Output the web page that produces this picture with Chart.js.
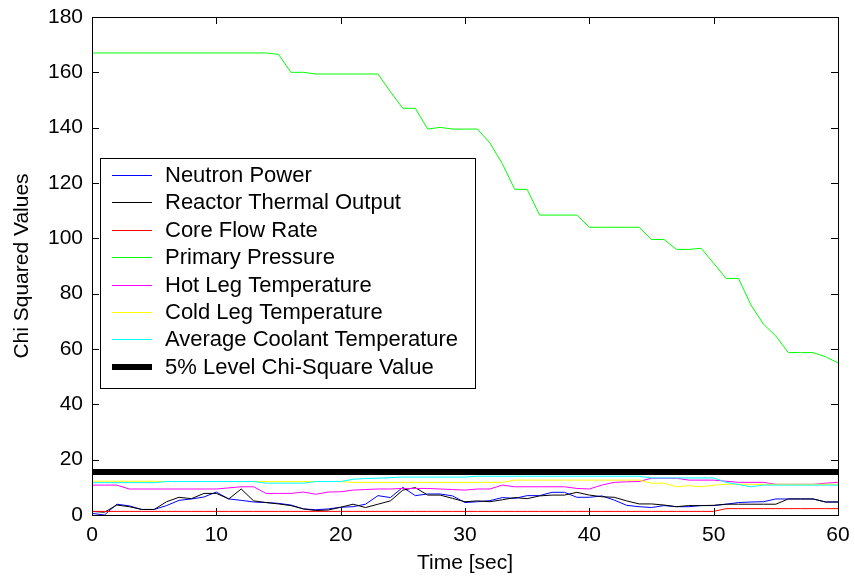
<!DOCTYPE html>
<html>
<head>
<meta charset="utf-8">
<title>Chi Squared Values</title>
<script src="https://cdn.jsdelivr.net/npm/chart.js@4.4.1/dist/chart.umd.min.js"></script>
<style>
  html, body { margin: 0; padding: 0; background: #fff; }
  .chart-container { position: relative; width: 855px; height: 582px; }
</style>
</head>
<body>
<div class="chart-container"><canvas id="myChart"></canvas></div>
<script>
// Time axis (seconds)
const time = [
  0, 1, 2, 3, 4, 5, 6, 7, 8, 9, 10, 11, 12, 13, 14, 15, 16, 17, 18, 19, 20,
  21, 22, 23, 24, 25, 26, 27, 28, 29, 30, 31, 32, 33, 34, 35, 36, 37, 38, 39, 40,
  41, 42, 43, 44, 45, 46, 47, 48, 49, 50, 51, 52, 53, 54, 55, 56, 57, 58, 59, 60
];

const neutronPower = [
  0.6, 0, 3.9, 3.3, 2.0, 2.0, 3.4, 5.3, 5.8, 6.5, 8.3, 5.8, 5.3, 4.7, 4.5, 4.2, 3.6, 2.2, 1.9, 2.2, 2.8,
  3.0, 3.9, 7.0, 6.3, 10.0, 7.0, 7.6, 7.6, 6.9, 4.5, 4.8, 5.2, 6.3, 6.0, 7.0, 7.0, 8.2, 8.2, 6.4, 6.4,
  6.9, 5.4, 3.5, 3.0, 2.7, 3.4, 3.0, 3.0, 3.4, 3.4, 3.9, 4.5, 4.7, 4.8, 5.8, 5.8, 5.8, 5.8, 4.7, 4.7
];

const reactorThermalOutput = [
  1.3, 1.0, 3.6, 3.0, 2.0, 2.0, 4.8, 6.4, 5.9, 7.8, 7.8, 5.8, 9.4, 5.1, 4.5, 4.0, 3.4, 2.2, 1.6, 1.8, 2.8,
  3.9, 2.7, 3.9, 5.1, 9.0, 9.9, 7.2, 7.2, 6.0, 4.8, 5.1, 4.8, 5.5, 6.3, 5.9, 6.9, 7.2, 7.2, 8.2, 7.2,
  6.6, 6.4, 5.1, 4.0, 4.0, 3.6, 3.0, 3.4, 3.4, 3.5, 3.9, 3.9, 3.9, 3.9, 3.9, 5.8, 5.8, 5.8, 4.7, 4.7
];

const coreFlowRate = [
  1.3, 1.3, 1.3, 1.3, 1.3, 1.3, 1.3, 1.3, 1.3, 1.3, 1.3, 1.3, 1.3, 1.3, 1.3, 1.3, 1.3, 1.3, 1.3, 1.3, 1.3,
  1.3, 1.3, 1.3, 1.3, 1.3, 1.3, 1.3, 1.3, 1.3, 1.3, 1.3, 1.3, 1.3, 1.3, 1.3, 1.3, 1.3, 1.3, 1.3, 1.3,
  1.3, 1.3, 1.3, 1.3, 1.3, 1.3, 1.3, 1.3, 1.3, 1.3, 2.3, 2.3, 2.3, 2.3, 2.3, 2.3, 2.3, 2.3, 2.3, 2.3
];

const primaryPressure = [
  167, 167, 167, 167, 167, 167, 167, 167, 167, 167, 167, 167, 167, 167, 167, 166.5, 160, 160, 159.4, 159.4, 159.4,
  159.4, 159.4, 159.4, 153, 147, 147, 139.5, 140.1, 139.5, 139.5, 139.5, 134.5, 127, 117.7, 117.7, 108.4, 108.4, 108.4, 108.4, 104,
  104, 104, 104, 104, 99.6, 99.6, 96, 96, 96.4, 91, 85.5, 85.5, 75.9, 69, 64.7, 58.7, 58.7, 58.7, 57.2, 55
];

const hotLegTemp = [
  10.8, 10.8, 10.8, 9.4, 9.4, 9.4, 9.4, 9.4, 9.4, 9.4, 9.4, 9.8, 10.2, 10.2, 7.8, 7.8, 7.8, 8.3, 7.5, 8.3, 8.4,
  9.0, 9.2, 9.4, 9.4, 9.6, 9.6, 9.6, 9.4, 9.2, 9.0, 9.4, 9.4, 10.8, 10.2, 10.2, 10.2, 10.2, 10.2, 9.6, 9.4,
  10.8, 11.8, 12.0, 12.1, 13.3, 13.3, 13.3, 12.6, 12.6, 12.6, 12.2, 11.8, 11.8, 11.8, 11.1, 11.1, 11.1, 11.1, 11.5, 11.8
];

const coldLegTemp = [
  12.2, 12.2, 12.2, 12.2, 12.2, 12.2, 12.1, 12.1, 12.1, 12.1, 12.1, 12.1, 12.1, 12.1, 12.1, 12.1, 12.1, 12.1, 12.1, 12.1, 12.1,
  11.8, 11.8, 11.8, 11.8, 11.8, 11.8, 11.8, 11.8, 11.8, 11.8, 11.8, 11.8, 11.8, 12.6, 12.6, 12.6, 12.6, 12.6, 12.6, 12.6,
  12.6, 12.6, 12.6, 12.6, 11.5, 11.5, 10.2, 10.6, 10.2, 10.8, 11.1, 11.1, 11.1, 11.1, 11.1, 11.1, 11.1, 11.1, 11.1, 11.1
];

const avgCoolantTemp = [
  11.7, 11.7, 11.7, 11.7, 11.7, 11.7, 12.1, 12.1, 12.1, 12.1, 12.1, 12.1, 12.1, 12.1, 11.5, 11.5, 11.5, 11.5, 12.1, 12.1, 12.1,
  12.9, 13.2, 13.3, 13.5, 13.7, 13.7, 13.7, 13.7, 13.7, 13.7, 14.0, 14.0, 14.0, 14.0, 14.0, 14.0, 14.0, 14.0, 14.0, 14.0,
  14.0, 14.0, 14.0, 14.0, 13.4, 13.4, 13.4, 13.4, 13.4, 13.4, 11.8, 11.0, 10.2, 10.8, 10.8, 10.8, 10.8, 10.8, 10.8, 10.8
];

// 5% significance level of chi-square
const chiLevel = 15.5;
const chiLevelTime = [0, 60];

const xTicks = [0, 10, 20, 30, 40, 50, 60];
const yTicks = [0, 20, 40, 60, 80, 100, 120, 140, 160, 180];

const FONT = 'Liberation Sans, Arial, Helvetica, sans-serif';

const toPoints = (ys) => ys.map((y, i) => ({ x: time[i], y }));

const series = [
  { label: 'Neutron Power', data: toPoints(neutronPower), color: '#0000ff', width: 1 },
  { label: 'Reactor Thermal Output', data: toPoints(reactorThermalOutput), color: '#000000', width: 1 },
  { label: 'Core Flow Rate', data: toPoints(coreFlowRate), color: '#ff0000', width: 1 },
  { label: 'Primary Pressure', data: toPoints(primaryPressure), color: '#00ff00', width: 1 },
  { label: 'Hot Leg Temperature', data: toPoints(hotLegTemp), color: '#ff00ff', width: 1 },
  { label: 'Cold Leg Temperature', data: toPoints(coldLegTemp), color: '#ffff00', width: 1 },
  { label: 'Average Coolant Temperature', data: toPoints(avgCoolantTemp), color: '#00ffff', width: 1 },
  { label: '5% Level Chi-Square Value', data: chiLevelTime.map(t => ({ x: t, y: chiLevel })), color: '#000000', width: 6 }
];

// no extra label overflow padding, so the plot box sits where layout.padding says
const noScalePadding = (scale) => {
  scale.paddingTop = 0;
  scale.paddingBottom = 0;
  scale.paddingLeft = 0;
  scale.paddingRight = 0;
};

// box around the plot with inward ticks on all four sides
const boxTicks = {
  id: 'boxTicks',
  afterDatasetsDraw(chart) {
    const { ctx, chartArea: a, scales } = chart;
    const len = 7;
    ctx.save();
    ctx.strokeStyle = '#000';
    ctx.lineWidth = 1;
    ctx.beginPath();
    xTicks.forEach(v => {
      const px = Math.round(scales.x.getPixelForValue(v)) + 0.5;
      ctx.moveTo(px, a.bottom); ctx.lineTo(px, a.bottom - len);
      ctx.moveTo(px, a.top); ctx.lineTo(px, a.top + len);
    });
    yTicks.forEach(v => {
      const py = Math.round(scales.y.getPixelForValue(v)) + 0.5;
      ctx.moveTo(a.left, py); ctx.lineTo(a.left + len, py);
      ctx.moveTo(a.right, py); ctx.lineTo(a.right - len, py);
    });
    ctx.stroke();
    ctx.strokeRect(Math.round(a.left) + 0.5, Math.round(a.top) + 0.5,
      Math.round(a.right - a.left), Math.round(a.bottom - a.top));
    ctx.restore();
  }
};

// legend box inside the plot, upper left
const boxLegend = {
  id: 'boxLegend',
  afterDraw(chart) {
    const { ctx, chartArea: a } = chart;
    const x = Math.round(a.left) + 8, y = Math.round(a.top) + 141;
    const w = 375, h = 230, row = 27.4;
    ctx.save();
    ctx.fillStyle = '#fff';
    ctx.fillRect(x, y, w, h);
    ctx.strokeStyle = '#000';
    ctx.lineWidth = 1;
    ctx.strokeRect(x + 0.5, y + 0.5, w, h);
    ctx.font = '22px ' + FONT;
    ctx.textBaseline = 'middle';
    ctx.textAlign = 'left';
    series.forEach((s, i) => {
      const cy = Math.round(y + 17 + i * row);
      ctx.fillStyle = s.color;
      ctx.fillRect(x + 12, cy - Math.floor(s.width / 2), 40, s.width);
      ctx.fillStyle = '#000';
      ctx.fillText(s.label, x + 65, cy + 1);
    });
    ctx.restore();
  }
};

const ctx = document.getElementById('myChart').getContext('2d');
const myChart = new Chart(ctx, {
  type: 'line',
  data: {
    datasets: series.map((s, i) => ({
      label: s.label,
      data: s.data,
      borderColor: s.color,
      backgroundColor: s.color,
      borderWidth: s.width,
      pointRadius: 0,
      tension: 0,
      fill: false,
      order: series.length - i
    }))
  },
  options: {
    responsive: true,
    maintainAspectRatio: false,
    animation: false,
    layout: { padding: { top: 17, right: 17, left: 0, bottom: 0 } },
    plugins: {
      legend: { display: false },
      tooltip: { enabled: false }
    },
    scales: {
      x: {
        type: 'linear',
        min: 0,
        max: 60,
        afterBuildTicks: (scale) => { scale.ticks = xTicks.map(v => ({ value: v })); },
        afterFit: (scale) => { scale.height = 67; noScalePadding(scale); },
        grid: { display: false, drawTicks: false },
        border: { display: false },
        ticks: { color: '#000', padding: 8, maxRotation: 0, font: { family: FONT, size: 21 } },
        title: {
          display: true,
          text: 'Time [sec]',
          color: '#000',
          padding: { top: 0, bottom: 6 },
          font: { family: FONT, size: 21 }
        }
      },
      y: {
        type: 'linear',
        min: 0,
        max: 180,
        afterBuildTicks: (scale) => { scale.ticks = yTicks.map(v => ({ value: v })); },
        afterFit: (scale) => { scale.width = 92; noScalePadding(scale); },
        grid: { display: false, drawTicks: false },
        border: { display: false },
        ticks: { color: '#000', padding: 9, font: { family: FONT, size: 21 } },
        title: {
          display: true,
          text: 'Chi Squared Values',
          color: '#000',
          padding: { top: 10, bottom: 0 },
          font: { family: FONT, size: 21 }
        }
      }
    }
  },
  plugins: [boxTicks, boxLegend]
});
</script>
</body>
</html>
